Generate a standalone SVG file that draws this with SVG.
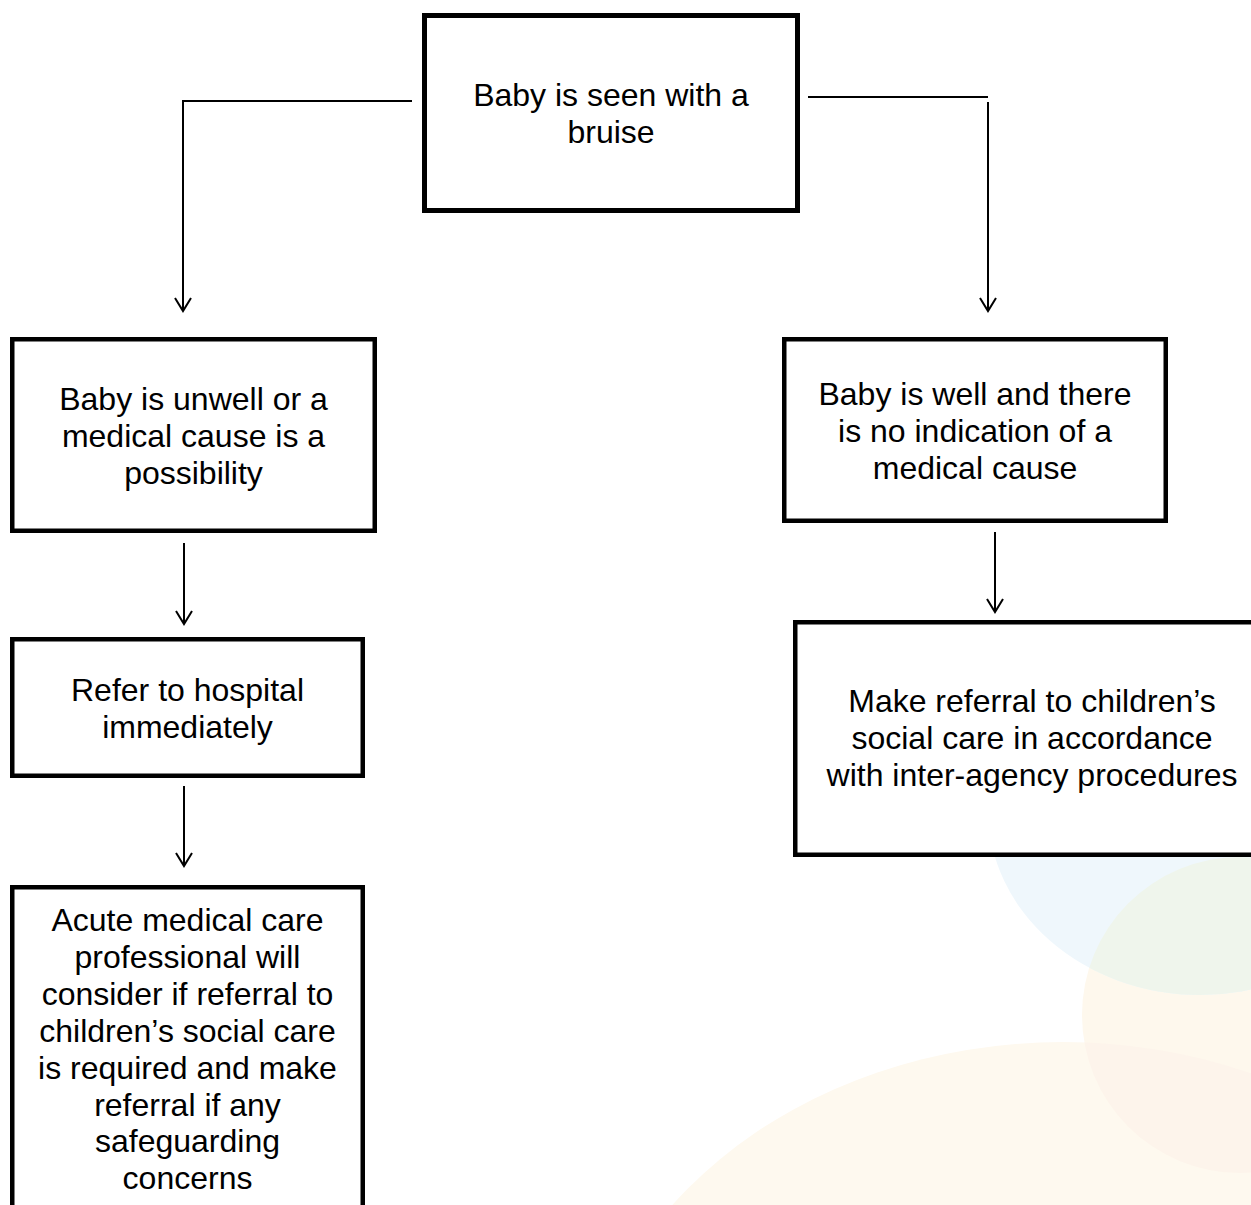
<svg xmlns="http://www.w3.org/2000/svg" width="1251" height="1205" viewBox="0 0 1251 1205">
  <style>
    .box { fill: #ffffff; stroke: #000000; stroke-width: 4.5; }
    .lbl { font-family: "Liberation Sans", Arial, sans-serif; font-size: 32px; fill: #000000; text-anchor: middle; }
    .conn { fill: none; stroke: #000000; stroke-width: 2; }
  </style>
  <defs>
    <marker id="arrow" viewBox="-16 -10 20 20" refX="0" refY="0" markerWidth="20" markerHeight="20" markerUnits="userSpaceOnUse" orient="auto">
      <path d="M-13,-8 L0,0 L-13,8" fill="none" stroke="#000000" stroke-width="2"/>
    </marker>
    <clipPath id="clipCircle">
      <circle cx="1240" cy="1015" r="158"/>
    </clipPath>
  </defs>
  <rect x="0" y="0" width="1251" height="1205" fill="#ffffff"/>

  <g id="background">
    <ellipse cx="1063" cy="1442" rx="485" ry="400" fill="#fef9ef"/>
    <circle cx="1240" cy="1015" r="158" fill="#fef8ed"/>
    <ellipse cx="1063" cy="1442" rx="485" ry="400" fill="#fdf4eb" clip-path="url(#clipCircle)"/>
    <ellipse cx="1200" cy="810" rx="212" ry="185" fill="#eff7fc"/>
    <ellipse cx="1200" cy="810" rx="212" ry="185" fill="#eff5ec" clip-path="url(#clipCircle)"/>
  </g>

  <g id="connectors">
    <path class="conn" d="M412,101 H183 V311" marker-end="url(#arrow)"/>
    <path class="conn" d="M808,97 H988"/>
    <path class="conn" d="M988,102 V311" marker-end="url(#arrow)"/>
    <path class="conn" d="M184,543 V624" marker-end="url(#arrow)"/>
    <path class="conn" d="M184,786 V866" marker-end="url(#arrow)"/>
    <path class="conn" d="M995,532 V612" marker-end="url(#arrow)"/>
  </g>

  <g id="node-bruise">
    <rect class="box" x="424.5" y="15.5" width="373" height="195" style="stroke-width:5"/>
    <text class="lbl" x="611" y="106">Baby is seen with a</text>
    <text class="lbl" x="611" y="143">bruise</text>
  </g>

  <g id="node-unwell">
    <rect class="box" x="12.25" y="339.25" width="362.5" height="191.5"/>
    <text class="lbl" x="193.5" y="410">Baby is unwell or a</text>
    <text class="lbl" x="193.5" y="447">medical cause is a</text>
    <text class="lbl" x="193.5" y="484">possibility</text>
  </g>

  <g id="node-well">
    <rect class="box" x="784.25" y="339.25" width="381.5" height="181.5"/>
    <text class="lbl" x="975" y="405">Baby is well and there</text>
    <text class="lbl" x="975" y="442">is no indication of a</text>
    <text class="lbl" x="975" y="479">medical cause</text>
  </g>

  <g id="node-hospital">
    <rect class="box" x="12.25" y="639.25" width="350.5" height="136.5"/>
    <text class="lbl" x="187.5" y="701">Refer to hospital</text>
    <text class="lbl" x="187.5" y="738">immediately</text>
  </g>

  <g id="node-referral">
    <rect class="box" x="795.25" y="622.25" width="480" height="232.5"/>
    <text class="lbl" x="1032" y="711.5">Make referral to children’s</text>
    <text class="lbl" x="1032" y="748.5">social care in accordance</text>
    <text class="lbl" x="1032" y="785.5">with inter-agency procedures</text>
  </g>

  <g id="node-acute">
    <rect class="box" x="12.25" y="887.25" width="350.5" height="400"/>
    <text class="lbl" x="187.5" y="931">Acute medical care</text>
    <text class="lbl" x="187.5" y="967.9">professional will</text>
    <text class="lbl" x="187.5" y="1004.8">consider if referral to</text>
    <text class="lbl" x="187.5" y="1041.7">children’s social care</text>
    <text class="lbl" x="187.5" y="1078.6">is required and make</text>
    <text class="lbl" x="187.5" y="1115.5">referral if any</text>
    <text class="lbl" x="187.5" y="1152.4">safeguarding</text>
    <text class="lbl" x="187.5" y="1189.3">concerns</text>
  </g>
</svg>
